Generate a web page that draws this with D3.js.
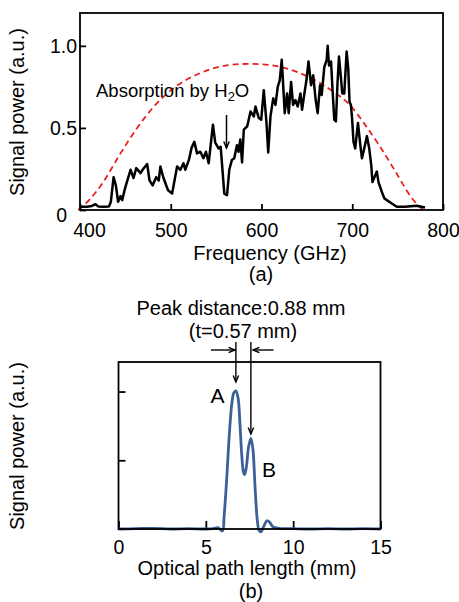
<!DOCTYPE html>
<html>
<head>
<meta charset="utf-8">
<script src="https://cdn.jsdelivr.net/npm/d3@7"></script>
<style>
  body { margin: 0; background: #fff; }
  svg { display: block; font-family: 'Liberation Sans', Arial, Helvetica, sans-serif; }
</style>
</head>
<body>
<div id="chart"></div>
<script>
const freqGHz = [401, 408, 413, 417, 420, 426, 432, 434, 437, 439.5, 442, 444.7, 446.5, 450, 455.7, 459, 462, 466.7, 469, 474,
  476.6, 480, 484, 486.8, 488.6, 492, 497, 501.5, 507, 510.6, 514, 516, 520, 523, 526, 529, 532.6, 536, 538.8, 541.8,
  544.7, 546.5, 549, 552.7, 555, 557, 559, 562, 564.5, 567.4, 570, 572.9, 574.7, 576.6, 578.6, 580.5, 584.3, 587.9, 591.5, 593.4,
  597, 599.7, 602.5, 605.5, 607.4, 609.9, 612.9, 615.4, 617.9, 620.1, 622.3, 623.8, 625.6, 628.2, 630, 632.6, 634.8, 637.4, 639.9, 642.9,
  644.7, 647.3, 649.5, 651.8, 654.6, 657, 659.7, 661.9, 664.5, 666.3, 669.2, 671.8, 672.9, 674.4, 676.6, 678, 680.2, 682, 683.8, 685.4,
  687.6, 689, 691.2, 693.8, 695.6, 697, 698.5, 699.8, 701.4, 703.3, 706.3, 708.8, 710.7, 712.4, 716.2, 718.7, 720.9, 722.3,
  724.5, 727.1, 728.9, 730.8, 732.6, 735.5, 738.1, 743.6, 749.1, 758.2, 771, 780.2]
const signalPower = [0.02, 0.02, 0.025, 0.035, 0.022, 0.02, 0.022, 0.05, 0.2, 0.15, 0.05, 0.085, 0.06, 0.14, 0.245, 0.195, 0.255, 0.225, 0.245, 0.28,
  0.18, 0.15, 0.2, 0.18, 0.265, 0.195, 0.12, 0.1, 0.265, 0.245, 0.285, 0.245, 0.305, 0.38, 0.415, 0.345, 0.355, 0.315, 0.355, 0.285,
  0.43, 0.52, 0.41, 0.375, 0.385, 0.245, 0.1, 0.09, 0.245, 0.305, 0.315, 0.395, 0.355, 0.43, 0.29, 0.49, 0.51, 0.6, 0.57, 0.63,
  0.56, 0.55, 0.73, 0.53, 0.35, 0.57, 0.68, 0.64, 0.75, 0.79, 0.915, 0.77, 0.59, 0.71, 0.59, 0.78, 0.64, 0.67, 0.63, 0.71,
  0.61, 0.71, 0.79, 0.905, 0.76, 0.82, 0.67, 0.59, 0.76, 0.7, 0.87, 0.915, 1.0, 0.88, 0.905, 0.76, 0.55, 0.54, 0.78, 0.935,
  0.8, 0.71, 0.71, 0.965, 0.86, 0.66, 0.64, 0.56, 0.415, 0.375, 0.53, 0.4, 0.315, 0.355, 0.45, 0.375, 0.275, 0.17,
  0.2, 0.235, 0.17, 0.14, 0.11, 0.07, 0.06, 0.04, 0.02, 0.02, 0.026, 0.015]

// (a) red dashed envelope
const envFreq = [398, 410, 425, 443, 463, 483, 505, 533, 560, 585, 600, 622, 652, 674, 699, 714, 729, 747, 766, 778]
const envPower = [0, 0.06, 0.165, 0.33, 0.5, 0.64, 0.75, 0.835, 0.88, 0.89, 0.888, 0.87, 0.81, 0.74, 0.63, 0.52, 0.4, 0.24, 0.07, 0]

// (b) optical path profile
const pathMm = [0, 1, 2, 3, 4, 5, 5.5, 5.7, 5.95, 6.05, 6.2, 6.35, 6.5, 6.6, 6.72, 6.85, 6.95, 7.05, 7.15, 7.22,
  7.32, 7.45, 7.58, 7.7, 7.82, 7.95, 8.05, 8.17, 8.3, 8.5, 8.65, 8.85, 9.2, 10, 11, 12, 13, 14, 15]
const pathPower = [0, 0.005, 0.01, 0, 0.005, 0, 0.01, 0.02, -0.03, 0.2, 0.75, 1.4, 1.85, 1.98, 2.01, 1.9, 1.55, 1.1, 0.83, 0.79,
  0.9, 1.2, 1.32, 1.15, 0.6, 0.12, -0.02, -0.04, 0.03, 0.12, 0.1, 0.03, 0.01, 0.005, 0, 0.005, 0, 0.005, 0]

const freqTicks = [400, 500, 600, 700, 800]
const powerTicks = [0, 0.5, 1.0]
const pathTicks = [0, 5, 10, 15]
const pathPowerTicks = [1, 2]

const svg = d3.select('#chart').append('svg')
  .attr('width', 459)
  .attr('height', 602)

// ---------- (a) ----------
const xa = d3.scaleLinear().domain([400, 800]).range([80, 443])
const ya = d3.scaleLinear().domain([0, 1.2]).range([210, 13])

const axA = svg.append('g')
  .attr('transform', 'translate(0,210)')
  .call(d3.axisBottom(xa).tickValues(freqTicks).tickSize(-6).tickPadding(13).tickFormat(d3.format('d')))
const ayA = svg.append('g')
  .attr('transform', 'translate(80,0)')
  .call(d3.axisLeft(ya).tickValues(powerTicks).tickSize(-6).tickPadding(3)
    .tickFormat(d => d === 0 ? '0' : d3.format('.1f')(d)))
axA.selectAll('text').filter(d => d === 400).attr('dx', 9)
ayA.selectAll('text').filter(d => d === 0).attr('dx', -10).attr('dy', '0.58em')

const lineA = d3.line().x((d, i) => xa(freqGHz[i])).y(d => ya(d))
svg.append('path')
  .datum(envPower)
  .attr('fill', 'none')
  .attr('stroke', '#e8231f')
  .attr('stroke-width', 1.8)
  .attr('stroke-dasharray', '6,4')
  .attr('d', d3.line().curve(d3.curveMonotoneX).x((d, i) => xa(envFreq[i])).y(d => ya(d)))
svg.append('path')
  .datum(signalPower)
  .attr('fill', 'none')
  .attr('stroke', '#000')
  .attr('stroke-width', 2.5)
  .attr('stroke-linejoin', 'round')
  .attr('d', lineA)

svg.append('rect')
  .attr('x', 80).attr('y', 13).attr('width', 363).attr('height', 197)
  .attr('fill', 'none').attr('stroke', '#000').attr('stroke-width', 1.8)

const noteA = svg.append('text').attr('x', 96).attr('y', 97).attr('font-size', 18.5)
noteA.append('tspan').text('Absorption by H')
noteA.append('tspan').attr('font-size', 13).attr('dy', 4).text('2')
noteA.append('tspan').attr('dy', -4).text('O')

function arrow(x1, y1, x2, y2, w) {
  const a = Math.atan2(y2 - y1, x2 - x1), h = 7
  svg.append('line')
    .attr('x1', x1).attr('y1', y1).attr('x2', x2).attr('y2', y2)
    .attr('stroke', '#000').attr('stroke-width', w)
  svg.append('path')
    .attr('d', `M${x2 - h * Math.cos(a - 0.4)},${y2 - h * Math.sin(a - 0.4)}L${x2},${y2}L${x2 - h * Math.cos(a + 0.4)},${y2 - h * Math.sin(a + 0.4)}`)
    .attr('fill', 'none').attr('stroke', '#000').attr('stroke-width', w)
}
arrow(226.5, 115, 226.5, 148, 1.5)

svg.append('text').attr('x', 270).attr('y', 260).attr('text-anchor', 'middle').attr('font-size', 20).text('Frequency (GHz)')
svg.append('text').attr('x', 261).attr('y', 281).attr('text-anchor', 'middle').attr('font-size', 20).text('(a)')
svg.append('text').attr('transform', 'translate(24,112) rotate(-90)').attr('text-anchor', 'middle').attr('font-size', 20).text('Signal power (a.u.)')

// ---------- (b) ----------
const xb = d3.scaleLinear().domain([0, 15]).range([118.5, 380.5])
const yb = d3.scaleLinear().domain([0, 2.43]).range([529, 362])

svg.append('g')
  .attr('transform', 'translate(0,529)')
  .call(d3.axisBottom(xb).tickValues(pathTicks).tickSize(-8).tickPadding(11))
svg.append('g')
  .attr('transform', 'translate(118.5,0)')
  .call(d3.axisLeft(yb).tickValues(pathPowerTicks).tickSize(-7).tickFormat(''))

svg.append('path')
  .datum(pathPower)
  .attr('fill', 'none')
  .attr('stroke', '#3b6197')
  .attr('stroke-width', 2.8)
  .attr('stroke-linejoin', 'round')
  .attr('d', d3.line().curve(d3.curveCatmullRom).x((d, i) => xb(pathMm[i])).y(d => yb(d)))

svg.append('rect')
  .attr('x', 118.5).attr('y', 362).attr('width', 262).attr('height', 167)
  .attr('fill', 'none').attr('stroke', '#000').attr('stroke-width', 1.8)

svg.append('text').attr('x', 241).attr('y', 315).attr('text-anchor', 'middle').attr('font-size', 20).text('Peak distance:0.88 mm')
svg.append('text').attr('x', 243).attr('y', 338).attr('text-anchor', 'middle').attr('font-size', 20).text('(t=0.57 mm)')
arrow(211, 350, 235, 350, 1.4)
arrow(273.5, 350, 253, 350, 1.4)
arrow(xb(6.72), 342, xb(6.72), 382, 1.4)
arrow(xb(7.58), 342, xb(7.58), 434, 1.4)
svg.append('text').attr('x', 217.5).attr('y', 403).attr('text-anchor', 'middle').attr('font-size', 21).text('A')
svg.append('text').attr('x', 269).attr('y', 477).attr('text-anchor', 'middle').attr('font-size', 21).text('B')

svg.append('text').attr('x', 247).attr('y', 575).attr('text-anchor', 'middle').attr('font-size', 20).text('Optical path length (mm)')
svg.append('text').attr('x', 251).attr('y', 598).attr('text-anchor', 'middle').attr('font-size', 20).text('(b)')
svg.append('text').attr('transform', 'translate(24,446) rotate(-90)').attr('text-anchor', 'middle').attr('font-size', 20).text('Signal power (a.u.)')

svg.selectAll('.tick text').attr('font-size', 19.5).attr('font-family', null).attr('fill', '#000')
svg.selectAll('.tick line').attr('stroke', '#000').attr('stroke-width', 1.8)
svg.selectAll('.domain').remove()
</script>
</body>
</html>
